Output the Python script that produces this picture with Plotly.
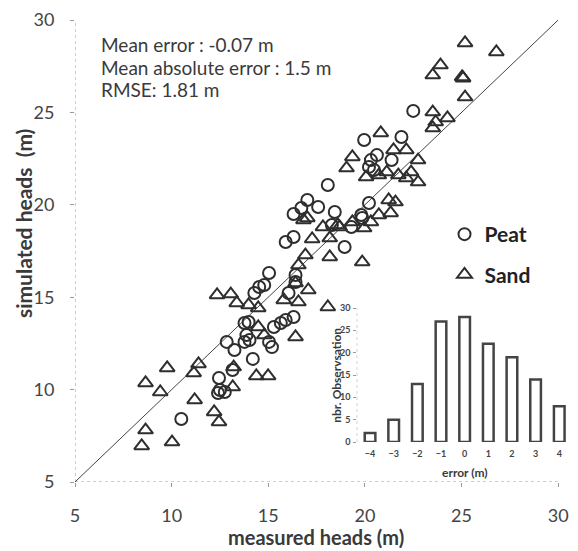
import plotly.graph_objects as go

# ---------------- data ----------------
peat_measured = [10.5, 12.45, 12.5, 12.75, 12.4, 13.15, 14.2, 12.85, 13.25, 13.77, 13.87, 14.03,
                 13.77, 13.98, 15.04, 15.19, 15.29, 15.65, 15.9, 16.31, 14.28, 14.53, 14.79, 16.05,
                 16.41, 18.08, 17.02, 17.58, 16.71, 16.31, 18.44, 16.31, 15.9, 15.04, 16.41, 18.95,
                 18.29, 22.5, 19.96, 20.62, 21.89, 21.38, 20.31, 20.21, 20.47, 20.21, 19.81, 19.86,
                 19.3]
peat_simulated = [8.41, 10.63, 9.98, 9.87, 9.82, 11.06, 11.66, 12.58, 12.14, 12.58, 12.95, 12.68,
                  13.6, 13.66, 12.58, 12.3, 13.39, 13.6, 13.77, 13.93, 15.23, 15.55, 15.66, 15.23,
                  15.82, 21.07, 20.26, 19.88, 19.83, 19.5, 19.61, 18.26, 17.99, 16.31, 16.2, 17.72,
                  18.91, 25.08, 23.51, 22.69, 23.67, 22.42, 22.42, 22.05, 21.88, 20.1, 19.45, 19.29,
                  18.8]

sand_measured = [12.35, 13.06, 13.37, 13.98, 14.48, 8.65, 9.77, 9.41, 11.39, 11.14, 11.19, 8.65,
                 8.45, 10.02, 12.2, 12.45, 13.21, 13.16, 14.38, 14.99, 16.41, 14.79, 14.48, 15.8,
                 16.56, 16.82, 17.02, 17.27, 16.92, 16.56, 18.18, 18.18, 17.83, 18.59, 17.07, 18.08,
                 23.51, 23.66, 24.27, 23.51, 20.82, 19.35, 19.05, 20.06, 20.72, 21.13, 21.48, 22.14,
                 22.75, 22.14, 22.39, 22.75, 21.73, 21.58, 21.23, 21.33, 20.72, 20.31, 19.96, 19.35,
                 18.69, 19.86, 16.41, 25.18, 26.8, 23.91, 23.51, 25.03, 25.08, 25.18]
sand_simulated = [15.12, 15.17, 14.69, 14.58, 14.42, 10.36, 11.17, 9.87, 11.39, 10.9, 9.44, 7.81,
                  6.95, 7.16, 8.79, 8.25, 11.22, 10.14, 10.74, 10.74, 12.85, 12.95, 13.39, 14.85,
                  14.74, 19.18, 19.29, 18.15, 17.28, 16.74, 18.2, 17.18, 18.8, 18.91, 15.39, 14.47,
                  25.02, 24.48, 24.7, 24.16, 23.89, 22.59, 21.99, 21.5, 21.61, 21.77, 22.97, 22.97,
                  22.42, 21.45, 21.77, 21.23, 21.61, 20.15, 20.26, 19.56, 19.45, 19.07, 18.74, 19.07,
                  18.8, 16.9, 15.77, 28.76, 28.27, 27.56, 27.02, 26.92, 26.85, 25.83]

one_to_one = [5, 30]

error_bins = [-4, -3, -2, -1, 0, 1, 2, 3, 4]
error_counts = [2, 5, 13, 27, 28, 22, 19, 14, 8]

axis_ticks = [5, 10, 15, 20, 25, 30]
hist_yticks = [0, 5, 10, 15, 20, 25, 30]

stats_lines = ["Mean error : -0.07 m", "Mean absolute error : 1.5 m", "RMSE: 1.81 m"]

# ---------------- figure ----------------
FONT = "Lato"
TXT = "#3a3a3a"
MK = "#2e2e2e"

fig = go.Figure()

fig.add_trace(go.Scatter(x=one_to_one, y=one_to_one, mode="lines",
                         line=dict(color="#444444", width=1), showlegend=False,
                         hoverinfo="skip"))

fig.add_trace(go.Scatter(x=peat_measured, y=peat_simulated, mode="markers", name="<b>Peat</b>",
                         legendgroup="p",
                         marker=dict(symbol="circle-open", size=12, color=MK,
                                     line=dict(width=2, color=MK))))
fig.add_trace(go.Scatter(x=sand_measured, y=sand_simulated, mode="markers", name="<b>Sand</b>",
                         legendgroup="s",
                         marker=dict(symbol="triangle-up-open", size=13, color=MK,
                                     line=dict(width=2, color=MK))))

fig.add_trace(go.Bar(x=error_bins, y=error_counts, width=0.45, xaxis="x2", yaxis="y2",
                     marker=dict(color="white", line=dict(color="#444444", width=2.5)),
                     showlegend=False))

W, H = 578, 551
L, R, T, B = 75, 0, 20, 69
pw, ph = W - L - R, H - T - B


def px_x(p):
    return (p - L) / pw


def px_y(p):
    return (H - B - p) / ph


fig.update_layout(
    width=W, height=H,
    margin=dict(l=L, r=R, t=T, b=B),
    paper_bgcolor="white", plot_bgcolor="white",
    font=dict(family=FONT, color=TXT),
    showlegend=True,
    legend=dict(x=px_x(452), y=px_y(214), xanchor="left", yanchor="top",
                font=dict(size=21, family=FONT, color="#222222"),
                bgcolor="rgba(0,0,0,0)", tracegroupgap=10, itemwidth=30),
    xaxis=dict(domain=[0, px_x(568)], range=[5, 30], tickvals=axis_ticks,
               showgrid=False, zeroline=False, showline=False,
               ticks="outside", ticklen=4, tickcolor="#999999",
               tickfont=dict(size=18, color="#444444"), ticklabelstandoff=13,
               ticklabeloverflow="allow"),
    yaxis=dict(domain=[0, 1], range=[5, 30], tickvals=axis_ticks,
               showgrid=False, zeroline=False, showline=False,
               ticks="outside", ticklen=4, tickcolor="#999999",
               tickfont=dict(size=18, color="#444444"), ticklabelstandoff=12,
               ticklabeloverflow="allow"),
    xaxis2=dict(domain=[px_x(363), 1], range=[-4.54, 4.37], anchor="y2",
                tickvals=error_bins, showgrid=False, zeroline=False, showline=False,
                ticks="", tickfont=dict(size=9, color="#444444", weight="bold"),
                ticklabelstandoff=5, ticklabeloverflow="allow"),
    yaxis2=dict(domain=[px_y(442), px_y(306)], range=[0, 30.45], anchor="x2",
                tickvals=hist_yticks, showgrid=False, zeroline=False, showline=False,
                ticks="outside", ticklen=3, tickcolor="#999999",
                tickfont=dict(size=9, color="#444444", weight="bold"),
                ticklabelstandoff=1),
    bargap=0.5,
)

# dotted axis lines
dot = dict(color="#9a9a9a", width=1, dash="dot")
fig.add_shape(type="line", xref="x domain", yref="y", x0=0, x1=1, y0=5, y1=5, line=dot, layer="below")
fig.add_shape(type="line", xref="x", yref="y domain", x0=5, x1=5, y0=0, y1=1, line=dot, layer="below")
fig.add_shape(type="line", xref="x2 domain", yref="y2", x0=0, x1=1, y0=0, y1=0, line=dot, layer="below")
fig.add_shape(type="line", xref="x2 domain", yref="y2", x0=0, x1=0, y0=0, y1=30, line=dot, layer="below")

# stats text
for i, s in enumerate(stats_lines):
    fig.add_annotation(text=s, xref="paper", yref="paper", x=px_x(99), y=px_y(44 + i * 23),
                       xanchor="left", yanchor="middle", showarrow=False,
                       font=dict(size=19, family=FONT, color=TXT))

# axis titles
fig.add_annotation(text="<b>measured heads (m)</b>", xref="paper", yref="paper",
                   x=px_x(321), y=px_y(537), xanchor="center", yanchor="middle", showarrow=False,
                   font=dict(size=20, family=FONT, color=TXT))
fig.add_annotation(text="<b>simulated heads&nbsp; (m)</b>", xref="paper", yref="paper",
                   x=px_x(22), y=px_y(224), xanchor="center", yanchor="middle", showarrow=False,
                   textangle=-90, font=dict(size=21, family=FONT, color=TXT))
fig.add_annotation(text="<b>error (m)</b>", xref="paper", yref="paper",
                   x=px_x(473), y=px_y(472), xanchor="center", yanchor="middle", showarrow=False,
                   font=dict(size=12, family=FONT, color=TXT))
fig.add_annotation(text="<b>nbr. Observsation</b>", xref="paper", yref="paper",
                   x=px_x(341), y=px_y(375), xanchor="center", yanchor="middle", showarrow=False,
                   textangle=-90, font=dict(size=12, family=FONT, color=TXT))

fig.write_html("out.html")
